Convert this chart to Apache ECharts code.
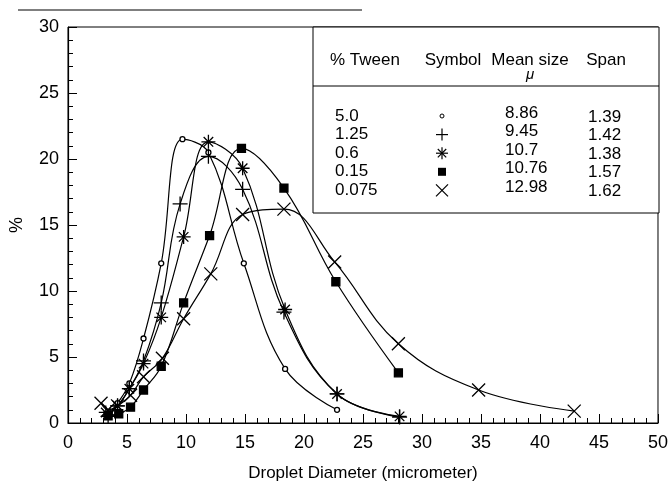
<!DOCTYPE html>
<html>
<head>
<meta charset="utf-8">
<script src="https://cdn.jsdelivr.net/npm/echarts@6/dist/echarts.min.js"></script>
<style>
  html, body { margin: 0; padding: 0; background: #fff; }
  #chart { width: 671px; height: 489px; }
</style>
</head>
<body>
<div id="chart"></div>
<script>
// droplet size distributions, one pair of arrays per % Tween
const x50 = [3.4, 4.2, 5.2, 6.4, 7.9, 9.7, 11.9, 14.9, 18.4, 22.8];
const y50 = [0.6, 1.5, 3.0, 6.4, 12.1, 21.5, 20.5, 12.1, 4.1, 1.0];

const x125 = [3.4, 4.2, 5.2, 6.4, 7.9, 9.5, 11.9, 14.8, 18.3, 22.8, 28.1];
const y125 = [0.5, 1.3, 2.6, 4.7, 9.1, 16.6, 20.2, 17.7, 8.4, 2.2, 0.45];

const x06 = [3.2, 4.2, 5.2, 6.4, 7.9, 9.8, 11.9, 14.8, 18.4, 22.8, 28.1];
const y06 = [0.8, 1.3, 2.6, 4.5, 8.0, 14.1, 21.3, 19.3, 8.6, 2.2, 0.5];

const x015 = [3.4, 4.3, 5.3, 6.4, 7.9, 9.8, 12.0, 14.7, 18.3, 22.7, 28.0];
const y015 = [0.55, 0.7, 1.2, 2.5, 4.3, 9.1, 14.2, 20.8, 17.8, 10.7, 3.8];

const x0075 = [2.8, 3.4, 4.2, 5.3, 6.4, 8.0, 9.8, 12.1, 14.8, 18.3, 22.6, 28.0, 34.8, 42.9];
const y0075 = [1.5, 1.0, 1.3, 2.1, 3.5, 4.9, 7.9, 11.3, 15.8, 16.2, 12.2, 6.0, 2.5, 0.9];

// table inside the plot
const tweenPct = ['5.0', '1.25', '0.6', '0.15', '0.075'];
const meanSize = ['8.86', '9.45', '10.7', '10.76', '12.98'];
const spanVals = ['1.39', '1.42', '1.38', '1.57', '1.62'];

const FONT = '"Liberation Sans", Arial, Helvetica, sans-serif';

const PLUS = 'path://M5,0L5,10M0,5L10,5';
const STAR = 'path://M5,0L5,10M0,5L10,5M1.6,1.6L8.4,8.4M8.4,1.6L1.6,8.4';
const CROSS = 'path://M0,0L10,10M10,0L0,10';

function pairs(xs, ys) {
  return xs.map((x, i) => [x, ys[i]]);
}

function makeSeries(name, xs, ys, symbol, size, fill) {
  return {
    name: name,
    type: 'line',
    smooth: 0.4,
    data: pairs(xs, ys),
    symbol: symbol,
    symbolSize: size,
    showAllSymbol: true,
    lineStyle: { color: '#000', width: 1.2 },
    itemStyle: { color: fill, borderColor: '#000', borderWidth: 1.3 },
    emphasis: { disabled: true },
    animation: false
  };
}

// small helpers for the table drawing
function line(x1, y1, x2, y2, w) {
  return { type: 'line', shape: { x1, y1, x2, y2 }, style: { stroke: '#000', lineWidth: w || 1 }, silent: true };
}
function text(str, x, y, align, size, italic) {
  return {
    type: 'text', x: x, y: y, silent: true,
    style: {
      text: str, fill: '#000',
      font: (italic ? 'italic ' : '') + size + 'px ' + FONT,
      align: align, textAlign: align,
      verticalAlign: 'middle', textVerticalAlign: 'middle'
    }
  };
}
function symbolGraphic(kind, cx, cy) {
  const r = 6;
  if (kind === 0) {
    return [{ type: 'circle', shape: { cx, cy, r: 2 }, style: { fill: '#fff', stroke: '#000', lineWidth: 1 }, silent: true }];
  }
  if (kind === 1) {
    return [line(cx - r, cy, cx + r, cy, 1.2), line(cx, cy - r, cx, cy + r, 1.2)];
  }
  if (kind === 2) {
    const d = r * 0.7;
    return [line(cx - r, cy, cx + r, cy, 1.2), line(cx, cy - r, cx, cy + r, 1.2),
            line(cx - d, cy - d, cx + d, cy + d, 1.2), line(cx + d, cy - d, cx - d, cy + d, 1.2)];
  }
  if (kind === 3) {
    return [{ type: 'rect', shape: { x: cx - 4, y: cy - 4, width: 8, height: 8 }, style: { fill: '#000' }, silent: true }];
  }
  return [line(cx - r, cy - r, cx + r, cy + r, 1.2), line(cx + r, cy - r, cx - r, cy + r, 1.2)];
}

const graphics = [];
graphics.push(line(18, 10, 362, 10, 1.2));
graphics.push({ type: 'rect', shape: { x: 313, y: 27, width: 346, height: 186 },
  style: { fill: '#fff', stroke: '#000', lineWidth: 1 }, silent: true, z: 10 });
graphics.push(Object.assign(line(313, 86, 659, 86, 1), { z: 11 }));
const headers = [['% Tween', 330, 'left'], ['Symbol', 453, 'center'], ['Mean size', 530, 'center'], ['Span', 606, 'center']];
headers.forEach(h => graphics.push(Object.assign(text(h[0], h[1], 60, h[2], 17), { z: 11 })));
graphics.push(Object.assign(text('\u03bc', 530, 75, 'center', 15, true), { z: 11 }));
tweenPct.forEach((t, i) => {
  const y = 116 + i * 18.6;
  graphics.push(Object.assign(text(t, 335, y, 'left', 17), { z: 11 }));
  graphics.push(Object.assign(text(meanSize[i], 505, y - 3, 'left', 17), { z: 11 }));
  graphics.push(Object.assign(text(spanVals[i], 588, y + 1, 'left', 17), { z: 11 }));
  symbolGraphic(i, 442, y).forEach(g => graphics.push(Object.assign(g, { z: 11 })));
});

const chart = echarts.init(document.getElementById('chart'), null, { renderer: 'canvas' });
chart.setOption({
  backgroundColor: '#fff',
  animation: false,
  grid: {
    left: 64, right: 12, top: 27, bottom: 66,
    show: true, borderColor: '#000', borderWidth: 1, backgroundColor: 'transparent'
  },
  xAxis: {
    type: 'value',
    min: 0, max: 50, interval: 5,
    name: 'Droplet Diameter (micrometer)',
    nameLocation: 'middle',
    nameGap: 42,
    nameTextStyle: { color: '#000', fontSize: 17, fontFamily: FONT },
    axisLine: { lineStyle: { color: '#000', width: 1.2 } },
    axisTick: { inside: true, length: 9, lineStyle: { color: '#000' } },
    minorTick: { show: true, splitNumber: 5, length: 5, lineStyle: { color: '#000' } },
    axisLabel: { color: '#000', fontSize: 18, fontFamily: FONT, margin: 11 },
    splitLine: { show: false }
  },
  yAxis: {
    type: 'value',
    min: 0, max: 30, interval: 5,
    name: '%',
    nameLocation: 'middle',
    nameGap: 42,
    nameRotate: 90,
    nameTextStyle: { color: '#000', fontSize: 18, fontFamily: FONT },
    axisLine: { show: true, lineStyle: { color: '#000', width: 1.2 } },
    axisTick: { show: true, inside: true, length: 9, lineStyle: { color: '#000' } },
    minorTick: { show: true, splitNumber: 5, length: 5, lineStyle: { color: '#000' } },
    axisLabel: { color: '#000', fontSize: 18, fontFamily: FONT, margin: 9 },
    splitLine: { show: false }
  },
  series: [
    makeSeries('5.0', x50, y50, 'circle', 5, '#fff'),
    makeSeries('1.25', x125, y125, PLUS, 15, '#000'),
    makeSeries('0.6', x06, y06, STAR, 14, '#000'),
    makeSeries('0.15', x015, y015, 'rect', 8, '#000'),
    makeSeries('0.075', x0075, y0075, CROSS, 13, '#000')
  ],
  graphic: graphics
});
</script>
</body>
</html>
